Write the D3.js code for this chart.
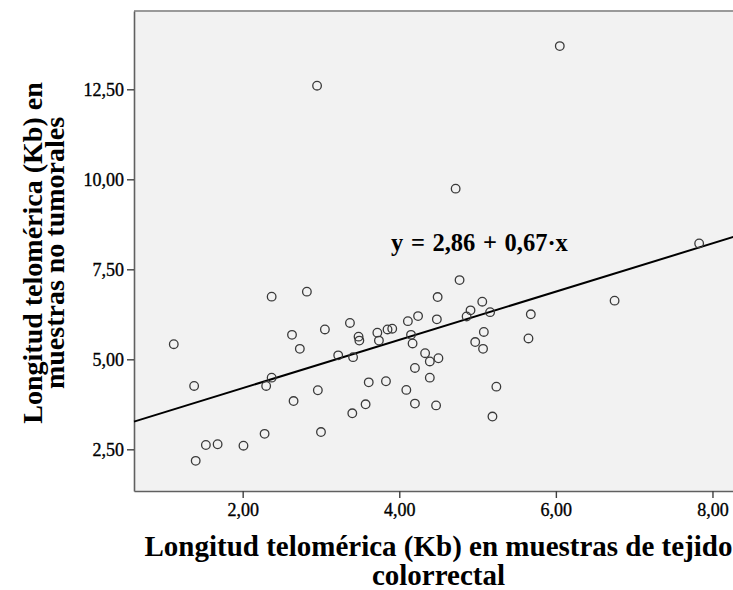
<!DOCTYPE html>
<html>
<head>
<meta charset="utf-8">
<script src="https://cdn.jsdelivr.net/npm/d3@7"></script>
<style>
  html, body { margin: 0; padding: 0; background: #ffffff; }
  svg { display: block; }
</style>
</head>
<body>
<svg id="chart" width="733" height="590"></svg>
<script>
// Telomere length (Kb): colorectal tissue (x) vs non-tumour samples (y)
const tejido = [
  1.12, 1.38, 1.40, 1.53, 1.68, 2.01, 2.28, 2.30, 2.37, 2.37,
  2.63, 2.73, 2.65, 2.82, 2.95, 2.96, 3.00, 3.05, 3.22, 3.37,
  3.41, 3.40, 3.48, 3.49, 3.57, 3.61, 3.72, 3.74, 3.83, 3.85,
  3.91, 4.09, 4.11, 4.15, 4.17, 4.20, 4.20, 4.24, 4.33, 4.39,
  4.39, 4.48, 4.47, 4.49, 4.50, 4.72, 4.77, 4.86, 4.91, 4.97,
  5.06, 5.08, 5.07, 5.16, 5.19, 5.24, 5.65, 5.68, 6.05, 6.75,
  7.83
];
const noTumoral = [
  5.42, 4.26, 2.18, 2.62, 2.64, 2.60, 2.93, 4.26, 4.49, 6.74,
  5.68, 5.29, 3.84, 6.88, 12.60, 4.14, 2.98, 5.83, 5.11, 6.01,
  5.06, 3.50, 5.63, 5.52, 3.75, 4.36, 5.74, 5.52, 4.39, 5.83,
  5.85, 4.15, 6.06, 5.68, 5.44, 3.77, 4.76, 6.20, 5.17, 4.94,
  4.49, 6.11, 3.72, 6.73, 5.03, 9.74, 7.20, 6.19, 6.36, 5.48,
  6.60, 5.76, 5.29, 6.31, 3.41, 4.24, 5.58, 6.25, 13.70, 6.63,
  8.22
];

// Fitted line y = a + b·x
const intercept = 2.86;
const slope = 0.67;

const xTicks = [2, 4, 6, 8];
const yTicks = [2.5, 5, 7.5, 10, 12.5];

const xTitleLines = ["Longitud telomérica (Kb) en muestras de tejido", "colorrectal"];
const yTitleLines = ["Longitud telomérica (Kb) en", "muestras no tumorales"];

const fmt = v => d3.format(".2f")(v).replace(".", ",");

const svg = d3.select("#chart");
const plot = { left: 134, right: 743, top: 11, bottom: 491 };

const x = d3.scaleLinear().domain([0.612, 8.39]).range([plot.left, plot.right]);
const y = d3.scaleLinear().domain([1.342, 14.675]).range([plot.bottom, plot.top]);

const serif = "'Liberation Serif', 'Times New Roman', serif";

// plot background
svg.append("rect")
  .attr("x", plot.left).attr("y", plot.top)
  .attr("width", plot.right - plot.left).attr("height", plot.bottom - plot.top)
  .attr("fill", "#f2f2f2");

// frame
svg.append("line")
  .attr("x1", plot.left).attr("x2", plot.right)
  .attr("y1", plot.top).attr("y2", plot.top)
  .attr("stroke", "#9a9a9a").attr("stroke-width", 2);

// axes
const xAxis = svg.append("g")
  .attr("transform", `translate(0,${plot.bottom})`)
  .call(d3.axisBottom(x).tickValues(xTicks).tickFormat(fmt)
    .tickSizeInner(7).tickSizeOuter(0).tickPadding(5));
const yAxis = svg.append("g")
  .attr("transform", `translate(${plot.left},0)`)
  .call(d3.axisLeft(y).tickValues(yTicks).tickFormat(fmt)
    .tickSizeInner(7).tickSizeOuter(0).tickPadding(3));

[xAxis, yAxis].forEach(g => {
  g.select(".domain").attr("stroke", "#606060").attr("stroke-width", 1.6);
  g.selectAll(".tick line").attr("stroke", "#404040").attr("stroke-width", 1.4);
  g.selectAll(".tick text")
    .attr("fill", "#000")
    .attr("stroke", "#000")
    .attr("stroke-width", 0.35)
    .attr("font-family", serif)
    .attr("font-size", 18);
});

// regression line across the plotting range
const xs = x.domain();
svg.append("line")
  .attr("x1", x(xs[0])).attr("y1", y(intercept + slope * xs[0]))
  .attr("x2", x(xs[1])).attr("y2", y(intercept + slope * xs[1]))
  .attr("stroke", "#000").attr("stroke-width", 2);

// observations
svg.append("g")
  .selectAll("circle")
  .data(tejido.map((v, i) => [v, noTumoral[i]]))
  .join("circle")
  .attr("cx", d => x(d[0]))
  .attr("cy", d => y(d[1]))
  .attr("r", 4.3)
  .attr("fill", "none")
  .attr("stroke", "#3a3a3a")
  .attr("stroke-width", 1.3);

// fitted equation label
svg.append("text")
  .attr("x", 391).attr("y", 251)
  .attr("font-family", serif)
  .attr("font-weight", "bold")
  .attr("font-size", 24.5)
  .attr("word-spacing", 1.5)
  .attr("fill", "#000")
  .text(`y = ${fmt(intercept)} + ${fmt(slope)}·x`);

// axis titles
const cx = (plot.left + plot.right) / 2;
svg.append("text")
  .attr("font-family", serif).attr("font-weight", "bold").attr("font-size", 29)
  .attr("text-anchor", "middle").attr("fill", "#000")
  .selectAll("tspan").data(xTitleLines).join("tspan")
  .attr("x", cx).attr("y", (d, i) => 556 + i * 29)
  .text(d => d);

const cy = (plot.top + plot.bottom) / 2;
svg.append("text")
  .attr("font-family", serif).attr("font-weight", "bold").attr("font-size", 28)
  .attr("text-anchor", "middle").attr("fill", "#000")
  .attr("transform", `translate(0,${cy + 2}) rotate(-90)`)
  .selectAll("tspan").data(yTitleLines).join("tspan")
  .attr("x", 0).attr("y", (d, i) => 42 + i * 22)
  .text(d => d);
</script>
</body>
</html>
